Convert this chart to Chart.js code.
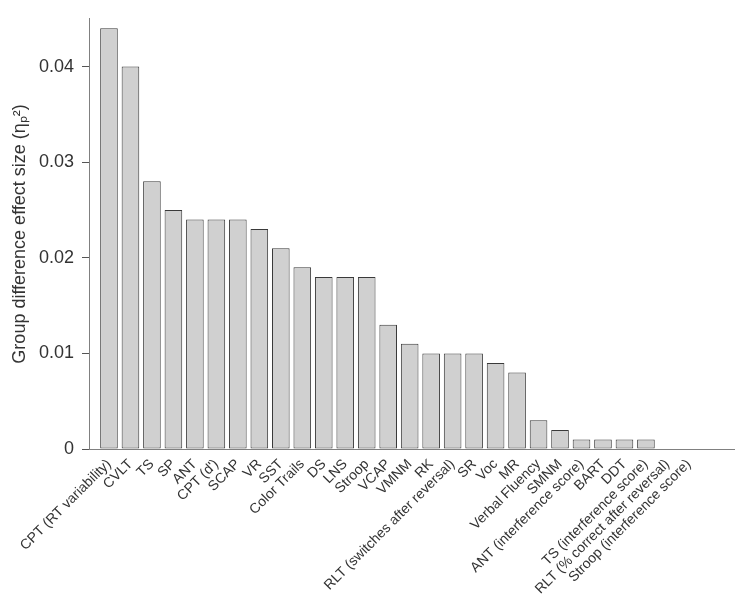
<!DOCTYPE html>
<html>
<head>
<meta charset="utf-8">
<script src="https://cdn.jsdelivr.net/npm/chart.js@4"></script>
<style>
  html, body { margin: 0; padding: 0; background: #fff; }
  #wrap { width: 736px; height: 600px; }
</style>
</head>
<body>
<div id="wrap"><canvas id="chart"></canvas></div>
<script>
const task_labels = [
  "CPT (RT variability)", "CVLT", "TS", "SP", "ANT", "CPT (d')", "SCAP", "VR", "SST",
  "Color Trails", "DS", "LNS", "Stroop", "VCAP", "VMNM", "RK", "RLT (switches after reversal)",
  "SR", "Voc", "MR", "Verbal Fluency", "SMNM", "ANT (interference score)", "BART", "DDT",
  "TS (interference score)", "RLT (% correct after reversal)", "Stroop (interference score)"
];
const effect_sizes = [
  0.044, 0.040, 0.028, 0.025, 0.024, 0.024, 0.024, 0.023, 0.021,
  0.019, 0.018, 0.018, 0.018, 0.013, 0.011, 0.010, 0.010,
  0.010, 0.009, 0.008, 0.003, 0.002, 0.001, 0.001, 0.001,
  0.001, 0, 0
];
const y_ticks = [0, 0.01, 0.02, 0.03, 0.04];

const text_color = "#333333";
const font_family = "'Liberation Sans', Arial, sans-serif";

const ctx = document.getElementById("chart").getContext("2d");

new Chart(ctx, {
  type: "bar",
  data: {
    datasets: [{
      data: effect_sizes.map((v, i) => ({ x: i, y: v })),
      backgroundColor: "#d0d0d0",
      borderColor: "#3a3a3a",
      borderWidth: 1,
      borderSkipped: false,
      categoryPercentage: 1,
      barPercentage: 0.82,
    }],
  },
  options: {
    responsive: true,
    maintainAspectRatio: false,
    animation: false,
    layout: { padding: { top: 4, right: 2, left: 0, bottom: 0 } },
    plugins: {
      legend: { display: false },
      tooltip: { enabled: false },
    },
    scales: {
      x: {
        type: "linear",
        offset: false,
        min: -0.93,
        max: 29.1,
        grid: { display: false, drawTicks: false, offset: false },
        border: { display: true, color: "#808080", width: 1 },
        ticks: {
          stepSize: 1,
          maxTicksLimit: 40,
          includeBounds: false,
          autoSkip: false,
          minRotation: 45,
          maxRotation: 45,
          padding: 7,
          color: text_color,
          font: { family: font_family, size: 14 },
          callback: (value) => task_labels[value] ?? "",
        },
        afterFit: (scale) => {
          scale.height = 151;
          scale.paddingLeft = 0;
          scale.paddingRight = 0;
        },
      },
      y: {
        min: 0,
        max: 0.045,
        grid: { drawOnChartArea: false, drawTicks: true, tickLength: 7, color: "#555555" },
        border: { display: true, color: "#808080", width: 1 },
        afterBuildTicks: (scale) => { scale.ticks = y_ticks.map((v) => ({ value: v })); },
        ticks: {
          padding: 8,
          color: text_color,
          font: { family: font_family, size: 18 },
          callback: (value) => (value === 0 ? "0" : value.toFixed(2)),
        },
        title: {
          display: true,
          text: "Group difference effect size (\u03B7\u209A\u00B2)",
          color: text_color,
          font: { family: font_family, size: 18 },
          padding: { top: 9, bottom: 0 },
        },
        afterFit: (scale) => { scale.width = 89; },
      },
    },
  },
});
</script>
</body>
</html>
